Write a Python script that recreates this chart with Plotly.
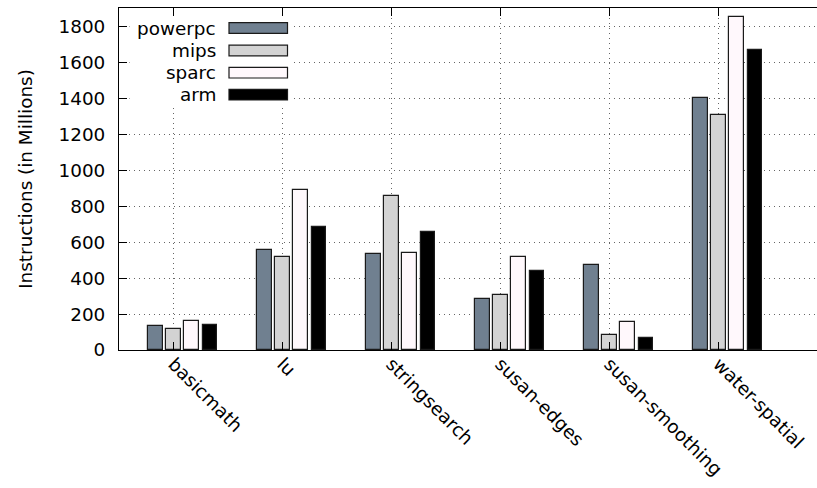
import plotly.graph_objects as go

categories = ["basicmath", "lu", "stringsearch", "susan-edges", "susan-smoothing", "water-spatial"]
series_names = ["powerpc", "mips", "sparc", "arm"]
powerpc = [132, 556, 536, 282, 475, 1405]
mips = [119, 516, 855, 304, 84, 1305]
sparc = [160, 892, 540, 518, 158, 1854]
arm = [139, 687, 654, 441, 67, 1670]
y_ticks = [0, 200, 400, 600, 800, 1000, 1200, 1400, 1600, 1800]

values = [powerpc, mips, sparc, arm]
colors = ["#708090", "#d3d3d3", "#fff8fc", "#000000"]

FONT = "DejaVu Sans"
FS = 18.4
W, H = 817, 488
L, R, T, B = 119, 0, 8, 138
PW = W - L - R
PH = H - T - B

n = len(series_names)
slot = 1.0 / (n + 2)
barw = 0.8 * slot

fig = go.Figure()
for j, (name, vals, col) in enumerate(zip(series_names, values, colors)):
    xs = [i + (j - 1) * slot for i in range(len(categories))]
    fig.add_trace(go.Bar(
        x=xs, y=vals, width=barw, name=name, showlegend=False,
        marker=dict(color=col, line=dict(color="#1a1a1a", width=1.2)),
    ))

def px_x(p):
    return (p - L) / PW

def px_y(p):
    return (H - B - p) / PH

shapes = []
annotations = []
# legend background
shapes.append(dict(type="rect", xref="paper", yref="paper", layer="above",
                   x0=px_x(129.5), x1=px_x(294), y0=px_y(106), y1=px_y(16.5),
                   fillcolor="white", line=dict(width=0)))
centers = [28, 50.5, 72.7, 94.7]
for name, col, cy in zip(series_names, colors, centers):
    shapes.append(dict(type="rect", xref="paper", yref="paper", layer="above",
                       x0=px_x(229), x1=px_x(287.5), y0=px_y(cy + 5.3), y1=px_y(cy - 5.3),
                       fillcolor=col, line=dict(color="#1a1a1a", width=1.2)))
    annotations.append(dict(xref="paper", yref="paper", x=px_x(217.5), y=px_y(cy),
                            xanchor="right", yanchor="middle", text=name, showarrow=False,
                            font=dict(family=FONT, size=FS, color="black")))

fig.update_layout(
    width=W, height=H,
    margin=dict(l=L, r=R, t=T, b=B, autoexpand=False),
    paper_bgcolor="white", plot_bgcolor="white",
    bargap=0, barmode="overlay",
    font=dict(family=FONT, size=FS, color="black"),
    shapes=shapes, annotations=annotations,
    showlegend=False,
)
fig.update_xaxes(
    range=[-0.5, -0.5 + PW / 109.0],
    tickmode="array", tickvals=list(range(len(categories))), ticktext=categories,
    tickangle=45, ticks="inside", ticklen=8, tickcolor="black", tickwidth=1,
    showline=True, linecolor="black", linewidth=1, mirror="ticks",
    showgrid=True, gridcolor="#666666", gridwidth=1, griddash="1px,4px",
    zeroline=False, ticklabelstandoff=-5,
    tickfont=dict(family=FONT, size=FS, color="black"),
)
fig.update_yaxes(
    range=[0, 1903],
    tickmode="array", tickvals=y_ticks,
    ticks="inside", ticklen=8, tickcolor="black", tickwidth=1,
    showline=True, linecolor="black", linewidth=1, mirror=False,
    showgrid=True, gridcolor="#666666", gridwidth=1, griddash="1px,4px",
    zeroline=False, ticklabelstandoff=9,
    tickfont=dict(family=FONT, size=FS, color="black"),
    title=dict(text="Instructions (in Millions)", standoff=21,
               font=dict(family=FONT, size=FS, color="black")),
)

fig.write_html("out.html")
